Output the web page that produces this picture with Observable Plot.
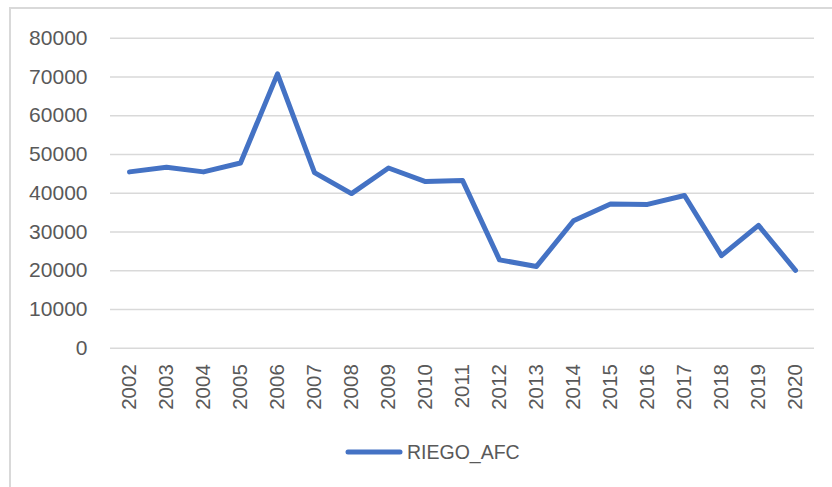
<!DOCTYPE html>
<html>
<head>
<meta charset="utf-8">
<script src="https://cdn.jsdelivr.net/npm/d3@7"></script>
<script src="https://cdn.jsdelivr.net/npm/@observablehq/plot@0.6"></script>
<style>
  html, body { margin: 0; padding: 0; background: #fff; }
  body { width: 832px; height: 487px; position: relative; overflow: hidden; font-family: "Liberation Sans", "Open Sans", sans-serif; }
  #frame { position: absolute; left: 9px; top: 7px; width: 900px; height: 600px; border-top: 2px solid #d9d9d9; border-left: 2px solid #d9d9d9; box-sizing: border-box; }
  #chart { position: absolute; left: 0; top: 0; }
  #legend { position: absolute; left: 345px; top: 438px; display: flex; align-items: center; color: #595959; font-size: 19.5px; }
  #legend svg { display: block; margin-right: 4px; }
</style>
</head>
<body>
<div id="frame"></div>
<div id="chart"></div>
<div id="legend"></div>
<script>
const years = ["2002","2003","2004","2005","2006","2007","2008","2009","2010","2011","2012","2013","2014","2015","2016","2017","2018","2019","2020"];
const values = [45500, 46700, 45500, 47800, 70800, 45300, 39900, 46500, 43000, 43300, 22800, 21100, 32900, 37200, 37100, 39400, 23900, 31700, 20100];
const yTicks = [0, 10000, 20000, 30000, 40000, 50000, 60000, 70000, 80000];
const seriesName = "RIEGO_AFC";
const lineColor = "#4472C4";

const data = years.map((y, i) => ({year: y, value: values[i]}));

const chart = Plot.plot({
  width: 832,
  height: 430,
  marginLeft: 110,
  marginRight: 18,
  marginTop: 37.7,
  marginBottom: 82.3,
  style: { fontFamily: '"Liberation Sans", "Open Sans", sans-serif', color: "#595959", background: "transparent" },
  x: { type: "point", domain: years, padding: 0.5, label: null },
  y: { domain: [0, 80000], label: null },
  marks: [
    Plot.ruleY(yTicks, { stroke: "#d9d9d9", strokeWidth: 1.5 }),
    Plot.axisY(yTicks, { tickSize: 0, tickPadding: 23, fontSize: 21, tickFormat: d => String(d), label: null, fill: "#595959" }),
    Plot.axisX({ tickSize: 0, tickPadding: 16, tickRotate: -90, fontSize: 20.5, label: null, fill: "#595959" }),
    Plot.line(data, { x: "year", y: "value", stroke: lineColor, strokeWidth: 5, strokeLinejoin: "round", strokeLinecap: "round" })
  ]
});
document.getElementById("chart").appendChild(chart);

const legend = document.getElementById("legend");
legend.innerHTML = `<svg width="58" height="28"><line x1="3" y1="14" x2="55" y2="14" stroke="${lineColor}" stroke-width="5" stroke-linecap="round"/></svg><span>${seriesName}</span>`;
</script>
</body>
</html>
